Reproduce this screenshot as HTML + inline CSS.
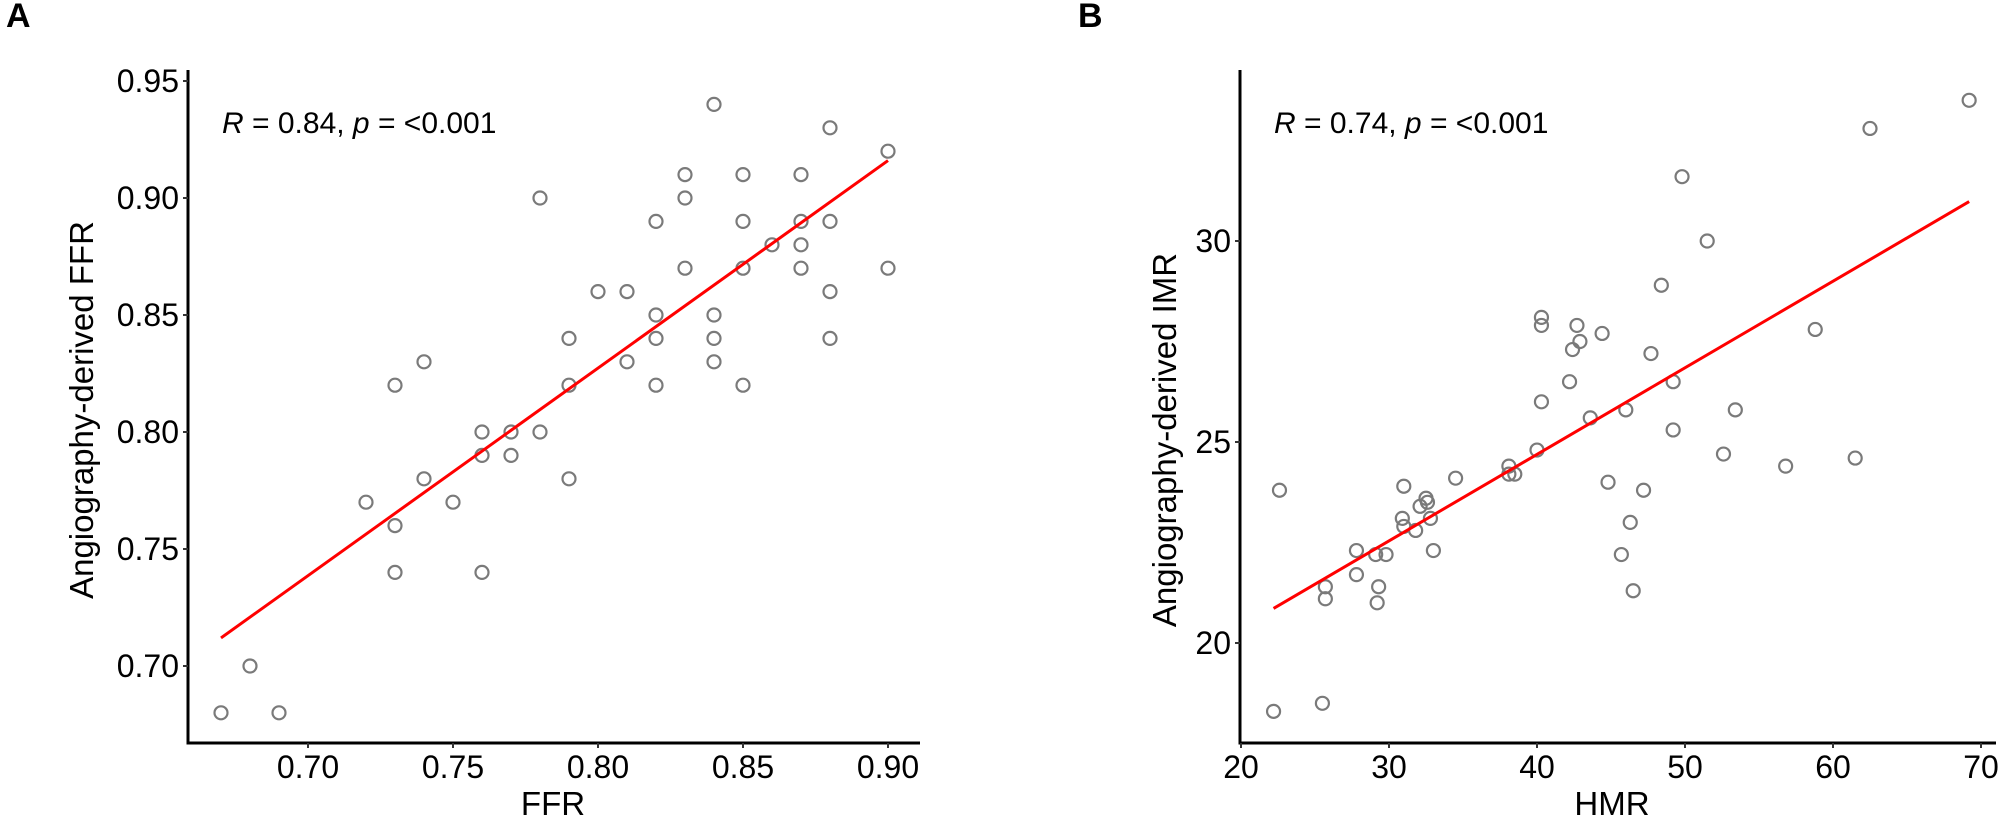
<!DOCTYPE html>
<html><head><meta charset="utf-8"><style>
html,body{margin:0;padding:0;background:#fff;}
svg{display:block;font-family:"Liberation Sans",Arial,sans-serif;}
</style></head><body>
<svg id="chart" width="2008" height="823" viewBox="0 0 2008 823">
<g id="pa"></g>
<g id="pb"></g>
</svg>
<script>
// Panel A data (FFR vs angiography-derived FFR)
const aX = [0.67,0.68,0.69,0.72,0.73,0.73,0.73,0.74,0.74,0.75,0.76,0.76,0.76,0.77,0.77,0.78,0.78,0.79,0.79,0.79,0.80,0.81,0.81,0.82,0.82,0.82,0.82,0.83,0.83,0.83,0.84,0.84,0.84,0.84,0.85,0.85,0.85,0.85,0.86,0.87,0.87,0.87,0.87,0.88,0.88,0.88,0.88,0.90,0.90];
const aY = [0.68,0.70,0.68,0.77,0.82,0.76,0.74,0.83,0.78,0.77,0.80,0.79,0.74,0.80,0.79,0.90,0.80,0.84,0.82,0.78,0.86,0.86,0.83,0.89,0.85,0.84,0.82,0.91,0.90,0.87,0.94,0.85,0.84,0.83,0.91,0.89,0.87,0.82,0.88,0.91,0.89,0.88,0.87,0.93,0.89,0.86,0.84,0.92,0.87];
const aFitX = [0.67,0.90];
const aFitY = [0.712,0.916];
const aXTicks = [0.70,0.75,0.80,0.85,0.90];
const aYTicks = [0.70,0.75,0.80,0.85,0.90,0.95];
// Panel B data (HMR vs angiography-derived IMR)
const bX = [22.6,22.2,25.5,25.7,25.7,27.8,27.8,29.1,29.8,29.3,29.2,31.0,30.9,31.0,31.8,32.1,32.5,32.6,32.8,33.0,34.5,38.1,38.1,38.5,40.0,40.3,40.3,40.3,42.2,42.4,42.9,42.7,43.6,44.4,44.8,46.0,47.2,46.3,45.7,46.5,47.7,49.2,49.2,69.2,62.5,49.8,51.5,48.4,58.8,53.4,52.6,56.8,61.5];
const bY = [23.8,18.3,18.5,21.4,21.1,22.3,21.7,22.2,22.2,21.4,21.0,23.9,23.1,22.9,22.8,23.4,23.6,23.5,23.1,22.3,24.1,24.4,24.2,24.2,24.8,26.0,28.1,27.9,26.5,27.3,27.5,27.9,25.6,27.7,24.0,25.8,23.8,23.0,22.2,21.3,27.2,25.3,26.5,33.5,32.8,31.6,30.0,28.9,27.8,25.8,24.7,24.4,24.6];
const bFitX = [22.2,69.2];
const bFitY = [20.86,30.98];
const bXTicks = [20,30,40,50,60,70];
const bYTicks = [20,25,30];

const NS = 'http://www.w3.org/2000/svg';
function mk(parent, tag, attrs, text){
  const e = document.createElementNS(NS, tag);
  for (const k in attrs) e.setAttribute(k, attrs[k]);
  if (text !== undefined) e.textContent = text;
  parent.appendChild(e);
  return e;
}

function panel(g, cfg){
  const sx = v => cfg.x0 + (v - cfg.xv0) * cfg.xk;
  const sy = v => cfg.y0 - (v - cfg.yv0) * cfg.yk;
  const L = mk(g,'text',{x:cfg.labX,y:27,'font-size':34,'font-weight':'bold',fill:'#000'},cfg.label);
  
  
  // points
  const pts = mk(g,'g',{});
  
  
  for (let i=0;i<cfg.xs.length;i++){
    const c = mk(pts,'circle',{cx:sx(cfg.xs[i]),cy:sy(cfg.ys[i]),r:6.5,fill:'none',stroke:'#7a7a7a','stroke-width':2.2});
    
    
  }
  // fit line
  const f = mk(g,'line',{x1:sx(cfg.fx[0]),y1:sy(cfg.fy[0]),x2:sx(cfg.fx[1]),y2:sy(cfg.fy[1]),stroke:'#ff0000','stroke-width':3});
  
  
  // axes
  const ya = mk(g,'line',{x1:cfg.axX,y1:70,x2:cfg.axX,y2:cfg.axY+1.5,stroke:'#000','stroke-width':3});
  
  
  const xa = mk(g,'line',{x1:cfg.axX-1.5,y1:cfg.axY,x2:cfg.axR,y2:cfg.axY,stroke:'#000','stroke-width':3});
  
  
  for (const t of cfg.xt){
    mk(g,'line',{x1:sx(t),y1:cfg.axY,x2:sx(t),y2:cfg.axY+5,stroke:'#333','stroke-width':2});
    const tl = mk(g,'text',{x:sx(t),y:cfg.axY+35,'font-size':32,'text-anchor':'middle',fill:'#000'},cfg.xfmt(t));
    
    
  }
  for (const t of cfg.yt){
    mk(g,'line',{x1:cfg.axX-5,y1:sy(t),x2:cfg.axX,y2:sy(t),stroke:'#333','stroke-width':2});
    const tl = mk(g,'text',{x:cfg.axX-9,y:sy(t)+11,'font-size':32,'text-anchor':'end',fill:'#000'},cfg.yfmt(t));
    
    
  }
  const xt = mk(g,'text',{x:cfg.xtX,y:815,'font-size':33,'text-anchor':'middle',fill:'#000'},cfg.xTitle);
  
  
  const yt = mk(g,'text',{x:0,y:0,'font-size':33,'text-anchor':'middle',fill:'#000',transform:'translate('+cfg.ytX+','+cfg.ytY+') rotate(-90)'},cfg.yTitle);
  
  
  const an = mk(g,'text',{x:cfg.anX,y:133,'font-size':30,fill:'#000'});
  
  
  mk(an,'tspan',{'font-style':'italic'},'R');
  mk(an,'tspan',{},' = '+cfg.r+', ');
  mk(an,'tspan',{'font-style':'italic'},'p');
  mk(an,'tspan',{},' = <0.001');
}

panel(document.getElementById('pa'),{
  label:'A',labX:6,xs:aX,ys:aY,fx:aFitX,fy:aFitY,
  x0:308,xv0:0.70,xk:2900,y0:666,yv0:0.70,yk:2340,
  axX:188,axY:743,axR:920,xt:aXTicks,yt:aYTicks,
  xfmt:v=>v.toFixed(2),yfmt:v=>v.toFixed(2),
  xTitle:'FFR',xtX:553,yTitle:'Angiography-derived FFR',ytX:93,ytY:410,
  anX:222,r:'0.84'
});
panel(document.getElementById('pb'),{
  label:'B',labX:1078,xs:bX,ys:bY,fx:bFitX,fy:bFitY,
  x0:1241,xv0:20,xk:14.8,y0:643,yv0:20,yk:40.2,
  axX:1240,axY:743,axR:1996,xt:bXTicks,yt:bYTicks,
  xfmt:v=>String(v),yfmt:v=>String(v),
  xTitle:'HMR',xtX:1612,yTitle:'Angiography-derived IMR',ytX:1176,ytY:440,
  anX:1274,r:'0.74'
});
</script>
</body></html>
